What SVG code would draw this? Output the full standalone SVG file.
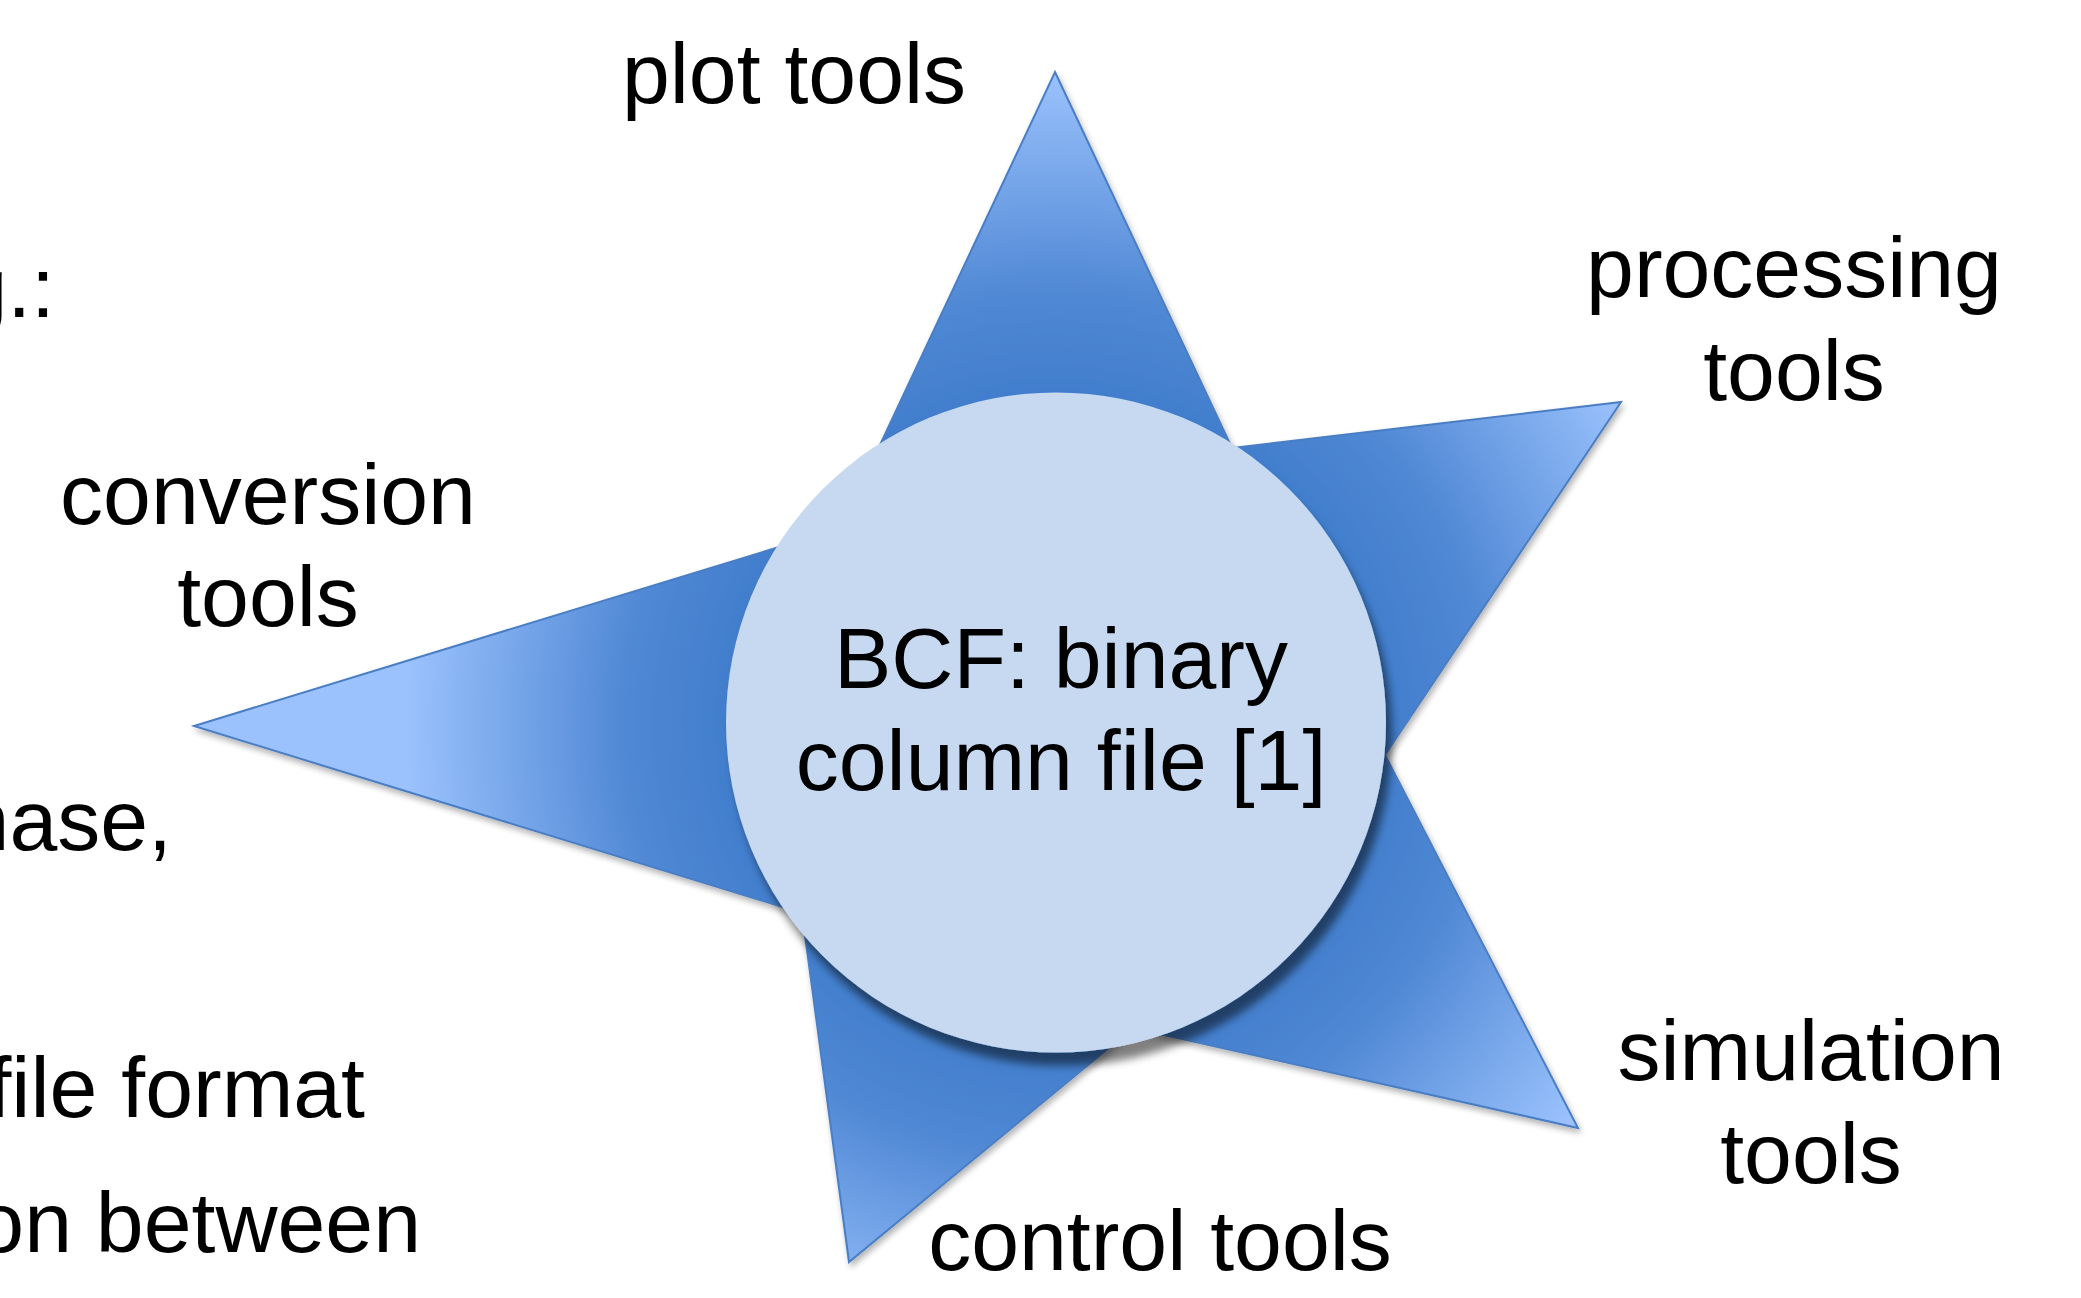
<svg xmlns="http://www.w3.org/2000/svg" width="2081" height="1298" viewBox="0 0 2081 1298">
  <defs>
    <style>
      .lbl { font-family: "Liberation Sans", Arial, sans-serif; font-size: 86px; fill: #000000; text-anchor: middle; }
      .frag { font-family: "Liberation Sans", Arial, sans-serif; font-size: 86px; fill: #000000; text-anchor: end; }
    </style>
    <!-- star fill: dark around the hub, light towards the tips -->
    <radialGradient id="armFill" gradientUnits="userSpaceOnUse" cx="1056" cy="723" r="700">
      <stop offset="0.45" stop-color="#3F7CCB"/>
      <stop offset="0.62" stop-color="#5189D5"/>
      <stop offset="0.93" stop-color="#9BC2FD"/>
    </radialGradient>
    <filter id="starShadow" x="-10%" y="-10%" width="120%" height="120%">
      <feGaussianBlur in="SourceAlpha" stdDeviation="3"/>
      <feOffset dx="2" dy="4"/>
      <feComponentTransfer><feFuncA type="linear" slope="0.3"/></feComponentTransfer>
      <feMerge><feMergeNode/><feMergeNode in="SourceGraphic"/></feMerge>
    </filter>
    <filter id="hubShadow" x="-20%" y="-20%" width="140%" height="140%">
      <feGaussianBlur in="SourceAlpha" stdDeviation="4.5"/>
      <feOffset dx="6" dy="13"/>
      <feComponentTransfer><feFuncA type="linear" slope="0.5"/></feComponentTransfer>
      <feMerge><feMergeNode/><feMergeNode in="SourceGraphic"/></feMerge>
    </filter>
  </defs>

  <rect width="2081" height="1298" fill="#ffffff"/>

  <!-- partly visible body text at the left edge -->
  <g id="side-text">
    <text class="frag" x="55" y="317">g.:</text>
    <text class="frag" x="172" y="850">hase,</text>
    <text class="frag" x="365" y="1117">file format</text>
    <text class="frag" x="421" y="1252">on between</text>
  </g>

  <g id="star" filter="url(#starShadow)">
    <polygon points="1055,72 1232,448 1621,402 1385,755 1578,1128 1133,1028 849,1262 802,913 194,726 841,528"
             fill="url(#armFill)" stroke="#4A7EC4" stroke-width="2" stroke-linejoin="miter"/>
  </g>

  <g id="connectors"></g>

  <g id="hub">
    <circle cx="1056" cy="722.5" r="330" fill="#C6D9F0" filter="url(#hubShadow)"/>
    <text class="lbl" x="1061" y="688">BCF: binary</text>
    <text class="lbl" x="1061" y="790">column file [1]</text>
  </g>

  <g id="label-plot">
    <text class="lbl" x="794" y="103">plot tools</text>
  </g>
  <g id="label-processing">
    <text class="lbl" x="1794" y="297">processing</text>
    <text class="lbl" x="1794" y="400">tools</text>
  </g>
  <g id="label-simulation">
    <text class="lbl" x="1811" y="1080">simulation</text>
    <text class="lbl" x="1811" y="1183">tools</text>
  </g>
  <g id="label-control">
    <text class="lbl" x="1160" y="1270">control tools</text>
  </g>
  <g id="label-conversion">
    <text class="lbl" x="268" y="524">conversion</text>
    <text class="lbl" x="268" y="626">tools</text>
  </g>
</svg>
